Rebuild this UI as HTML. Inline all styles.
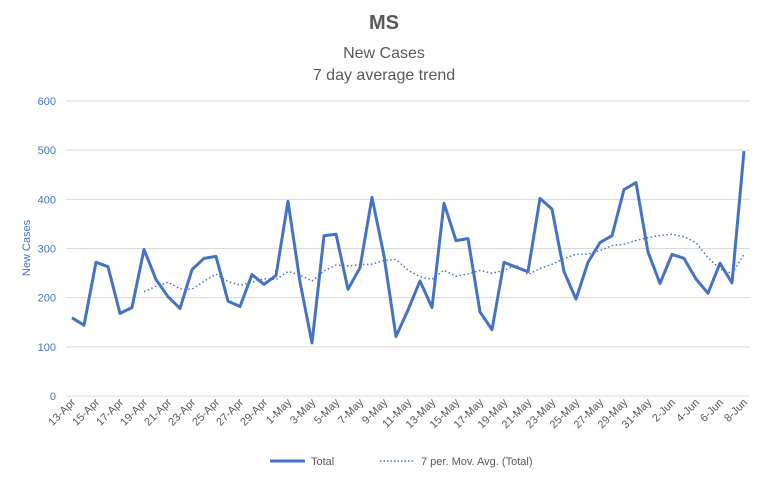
<!DOCTYPE html>
<html><head><meta charset="utf-8"><style>
body{margin:0;background:#fff;}
svg text{font-family:"Liberation Sans",sans-serif;}
</style></head><body>
<svg id="chart" width="768" height="480" xmlns="http://www.w3.org/2000/svg">
<text x="384" y="29" text-anchor="middle" font-size="20" font-weight="bold" fill="#595959">MS</text>
<text x="384" y="58" text-anchor="middle" font-size="16" fill="#595959">New Cases</text>
<text x="384" y="80" text-anchor="middle" font-size="16" fill="#595959">7 day average trend</text>
<text transform="translate(30,248) rotate(-90)" text-anchor="middle" font-size="11" fill="#4472C4">New Cases</text>
<g id="grid"></g>
<g id="xlabels"></g>
<g id="series"></g>
<g>
<line x1="270" y1="461" x2="305" y2="461" stroke="#4472C4" stroke-width="3"/>
<text x="311" y="465" font-size="11" fill="#595959">Total</text>
<line x1="380" y1="461" x2="415" y2="461" stroke="#4472C4" stroke-width="1.5" stroke-dasharray="1.5,2"/>
<text x="421" y="465" font-size="11" fill="#595959">7 per. Mov. Avg. (Total)</text>
</g>
</svg>
<script>
const months = ["Apr","May","Jun"];
const yTicks = [0,100,200,300,400,500,600];
const totals = [159,144,272,263,168,180,298,237,202,178,257,280,284,193,182,247,227,245,396,232,108,326,329,217,261,404,285,121,175,234,180,392,316,320,171,135,272,262,253,402,380,253,197,272,312,326,420,434,293,229,288,280,238,209,270,230,498];
const startDay = 13;
const NS="http://www.w3.org/2000/svg";
const L=66,R=750,T=101,B=396,yMax=600;
const n=totals.length, step=(R-L)/n;
const xs=i=>L+step/2+step*i;
const ys=v=>B-(v/yMax)*(B-T);
function mk(tag,attrs,parent){const e=document.createElementNS(NS,tag);for(const k in attrs)e.setAttribute(k,attrs[k]);parent.appendChild(e);return e;}
const grid=document.getElementById('grid');
yTicks.forEach(t=>{
  const l=mk('line',{x1:L,x2:R,y1:ys(t),y2:ys(t),stroke:'#d9d9d9','stroke-width':1},grid);
  
  
  const tx=mk('text',{x:56,y:ys(t)+4,'text-anchor':'end','font-size':11,fill:'#4472C4'},grid);
  tx.textContent=t;
  
  
});
const xl=document.getElementById('xlabels');
const mdays=[30,31,30];
function label(i){let d=startDay+i,m=0;while(d>mdays[m]){d-=mdays[m];m++;}return d+'-'+months[m];}
for(let i=0;i<n;i+=2){
  const x=xs(i)+4,y=403;
  const tx=mk('text',{x:x,y:y,'text-anchor':'end','font-size':11,fill:'#595959',transform:`rotate(-45 ${x} ${y})`},xl);
  tx.textContent=label(i);
  
  
}
const s=document.getElementById('series');
const p1=mk('polyline',{points:totals.map((v,i)=>xs(i)+','+ys(v)).join(' '),fill:'none',stroke:'#4472C4','stroke-width':3,'stroke-linejoin':'round'},s);


const avg=[];
for(let i=6;i<n;i++){let a=0;for(let j=i-6;j<=i;j++)a+=totals[j];avg.push([i,a/7]);}
const p2=mk('polyline',{points:avg.map(([i,v])=>xs(i)+','+ys(v)).join(' '),fill:'none',stroke:'#4472C4','stroke-width':1.5,'stroke-dasharray':'1.5,2.5'},s);


</script>
</body></html>
